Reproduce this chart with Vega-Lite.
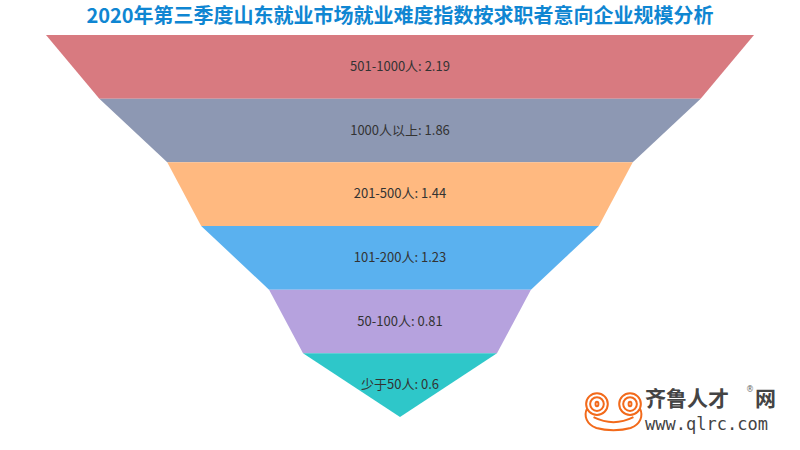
{
  "$schema": "https://vega.github.io/schema/vega-lite/v6.json",
  "width": 800,
  "height": 450,
  "padding": 0,
  "autosize": "none",
  "background": "white",
  "config": {"view": {"stroke": null}},
  "title": {
    "text": "2020年第三季度山东就业市场就业难度指数按求职者意向企业规模分析",
    "anchor": "middle",
    "frame": "group",
    "offset": -27,
    "font": "Noto Sans CJK SC",
    "fontSize": 20,
    "fontWeight": "bold",
    "color": "#0f86d2"
  },
  "datasets": {
    "corners": [
      {"stage": "501-1000人", "level": 0, "lo": -1.095, "hi": 1.095},
      {"stage": "501-1000人", "level": 1, "lo": -0.93, "hi": 0.93},
      {"stage": "1000人以上", "level": 1, "lo": -0.93, "hi": 0.93},
      {"stage": "1000人以上", "level": 2, "lo": -0.72, "hi": 0.72},
      {"stage": "201-500人", "level": 2, "lo": -0.72, "hi": 0.72},
      {"stage": "201-500人", "level": 3, "lo": -0.615, "hi": 0.615},
      {"stage": "101-200人", "level": 3, "lo": -0.615, "hi": 0.615},
      {"stage": "101-200人", "level": 4, "lo": -0.405, "hi": 0.405},
      {"stage": "50-100人", "level": 4, "lo": -0.405, "hi": 0.405},
      {"stage": "50-100人", "level": 5, "lo": -0.3, "hi": 0.3},
      {"stage": "少于50人", "level": 5, "lo": -0.3, "hi": 0.3},
      {"stage": "少于50人", "level": 6, "lo": 0, "hi": 0}
    ],
    "labels": [
      {"stage": "501-1000人", "value": 2.19, "mid": 0.5, "label": "501-1000人: 2.19"},
      {"stage": "1000人以上", "value": 1.86, "mid": 1.5, "label": "1000人以上: 1.86"},
      {"stage": "201-500人", "value": 1.44, "mid": 2.5, "label": "201-500人: 1.44"},
      {"stage": "101-200人", "value": 1.23, "mid": 3.5, "label": "101-200人: 1.23"},
      {"stage": "50-100人", "value": 0.81, "mid": 4.5, "label": "50-100人: 0.81"},
      {"stage": "少于50人", "value": 0.6, "mid": 5.5, "label": "少于50人: 0.6"}
    ]
  },
  "resolve": {"scale": {"x": "shared", "y": "shared"}},
  "layer": [
    {
      "data": {"name": "corners"},
      "mark": {"type": "area", "orient": "horizontal", "opacity": 1},
      "encoding": {
        "y": {"field": "level", "type": "quantitative", "axis": null,
              "scale": {"domain": [-0.5497, 6.518], "reverse": true, "nice": false, "zero": false}},
        "x": {"field": "lo", "type": "quantitative", "axis": null,
              "scale": {"domain": [-1.2373, 1.2373], "nice": false, "zero": false}},
        "x2": {"field": "hi"},
        "color": {"field": "stage", "type": "nominal", "legend": null,
                  "scale": {"domain": ["501-1000人", "1000人以上", "201-500人", "101-200人", "50-100人", "少于50人"],
                            "range": ["#d87a80", "#8d98b3", "#ffb980", "#5ab1ef", "#b6a2de", "#2ec7c9"]}}
      }
    },
    {
      "data": {"name": "labels"},
      "mark": {"type": "text", "font": "Noto Sans CJK SC", "fontSize": 13, "color": "#333333", "baseline": "middle", "align": "center"},
      "encoding": {
        "y": {"field": "mid", "type": "quantitative"},
        "x": {"datum": 0},
        "text": {"field": "label"}
      }
    },
    {
      "data": {"values": [{}]},
      "mark": {"type": "point", "filled": false, "stroke": "#f26a1b", "strokeWidth": 2, "opacity": 1,
               "shape": "M -0.96 -0.26 A 0.38 0.38 0 1 1 -0.2 -0.26 A 0.38 0.38 0 1 1 -0.96 -0.26 Z M 0.2 -0.26 A 0.38 0.38 0 1 1 0.96 -0.26 A 0.38 0.38 0 1 1 0.2 -0.26 Z M -0.82 -0.26 A 0.24 0.24 0 1 1 -0.34 -0.26 A 0.24 0.24 0 1 1 -0.82 -0.26 Z M 0.34 -0.26 A 0.24 0.24 0 1 1 0.82 -0.26 A 0.24 0.24 0 1 1 0.34 -0.26 Z M -0.63 -0.26 A 0.05 0.08 0 1 1 -0.53 -0.26 A 0.05 0.08 0 1 1 -0.63 -0.26 Z M 0.53 -0.26 A 0.05 0.08 0 1 1 0.63 -0.26 A 0.05 0.08 0 1 1 0.53 -0.26 Z M -0.93 -0.1 C -1.05 0.15 -0.95 0.45 -0.6 0.58 C -0.25 0.68 0.25 0.68 0.6 0.58 C 0.95 0.45 1.05 0.15 0.93 -0.1 M -0.7 0.2 Q 0 0.55 0.7 0.2",
               "size": 3249},
      "encoding": {"x": {"datum": 0.6604}, "y": {"datum": 5.913}}
    },
    {
      "data": {"values": [{}]},
      "mark": {"type": "text", "text": "齐鲁人才", "font": "Noto Sans CJK SC", "fontSize": 21, "fontWeight": "bold", "color": "#444444", "align": "left", "baseline": "middle"},
      "encoding": {"x": {"datum": 0.758}, "y": {"datum": 5.735}}
    },
    {
      "data": {"values": [{}]},
      "mark": {"type": "text", "text": "网", "font": "Noto Sans CJK SC", "fontSize": 21, "fontWeight": "bold", "color": "#444444", "align": "left", "baseline": "middle"},
      "encoding": {"x": {"datum": 1.098}, "y": {"datum": 5.735}}
    },
    {
      "data": {"values": [{}]},
      "mark": {"type": "text", "text": "®", "font": "DejaVu Sans", "fontSize": 8, "color": "#666666", "align": "center", "baseline": "middle"},
      "encoding": {"x": {"datum": 1.0826}, "y": {"datum": 5.576}}
    },
    {
      "data": {"values": [{}]},
      "mark": {"type": "text", "text": "www.qlrc.com", "font": "DejaVu Sans Mono", "fontSize": 17, "color": "#444444", "align": "left", "baseline": "middle"},
      "encoding": {"x": {"datum": 0.758}, "y": {"datum": 6.125}}
    }
  ]
}
